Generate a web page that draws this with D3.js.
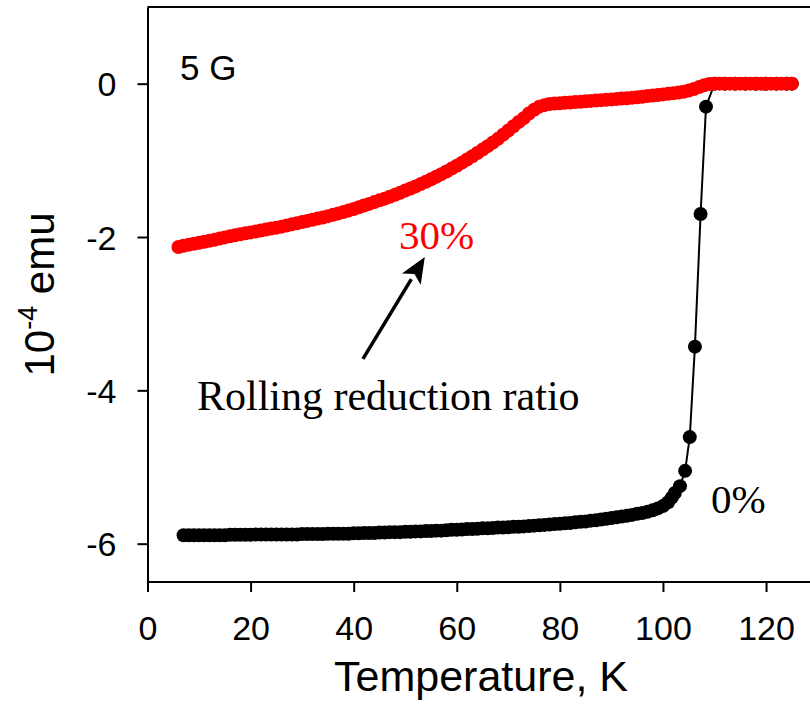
<!DOCTYPE html>
<html>
<head>
<meta charset="utf-8">
<script src="https://cdn.jsdelivr.net/npm/d3@7/dist/d3.min.js"></script>
<style>
  html, body { margin: 0; padding: 0; background: #fff; }
  svg { display: block; }
</style>
</head>
<body>
<svg id="chart" width="810" height="716"></svg>
<script>
// Magnetic moment (10^-4 emu) vs temperature (K) at 5 G, two rolling reduction ratios.

// 0% sample
const tempPlain = [
  7, 8, 9, 10, 11, 12, 13, 14, 15, 16, 17, 18, 19, 20, 21, 22, 23, 24, 25, 26,
  27, 28, 29, 30, 31, 32, 33, 34, 35, 36, 37, 38, 39, 40, 41, 42, 43, 44, 45, 46,
  47, 48, 49, 50, 51, 52, 53, 54, 55, 56, 57, 58, 59, 60, 61, 62, 63, 64, 65, 66,
  67, 68, 69, 70, 71, 72, 73, 74, 75, 76, 77, 78, 79, 80, 81, 82, 83, 84, 85, 86,
  87, 88, 89, 90, 91, 92, 93, 94, 95, 96, 97, 98, 99, 100, 101, 101.7, 102.3, 103.3,
  104.3, 105.2, 106.2, 107.3, 108.35, 110, 112, 114, 116, 118, 120, 122, 124, 125
];
const momentPlain = [
  -5.89, -5.89, -5.89, -5.89, -5.89, -5.89, -5.89, -5.89, -5.89, -5.885, -5.885, -5.885, -5.885, -5.885, -5.88, -5.88, -5.88, -5.88, -5.88, -5.88,
  -5.88, -5.88, -5.88, -5.875, -5.875, -5.875, -5.875, -5.875, -5.87, -5.87, -5.87, -5.87, -5.87, -5.865, -5.865, -5.86, -5.86, -5.86, -5.855, -5.855,
  -5.85, -5.85, -5.85, -5.845, -5.845, -5.84, -5.84, -5.835, -5.835, -5.83, -5.83, -5.825, -5.82, -5.82, -5.815, -5.81, -5.81, -5.805, -5.80, -5.80,
  -5.795, -5.79, -5.79, -5.785, -5.78, -5.78, -5.775, -5.77, -5.765, -5.76, -5.755, -5.75, -5.745, -5.74, -5.735, -5.73, -5.72, -5.715, -5.71, -5.70,
  -5.695, -5.685, -5.675, -5.665, -5.655, -5.645, -5.635, -5.625, -5.61, -5.60, -5.585, -5.565, -5.54, -5.51, -5.46, -5.40, -5.34, -5.25,
  -5.05, -4.61, -3.43, -1.70, -0.30, 0, 0, 0, 0, 0, 0, 0, 0, 0
];

// 30% sample
const tempRolled = [
  6, 7, 8, 9, 10, 11, 12, 13, 14, 15, 16, 17, 18, 19, 20, 21, 22, 23, 24, 25,
  26, 27, 28, 29, 30, 31, 32, 33, 34, 35, 36, 37, 38, 39, 40, 41, 42, 43, 44, 45,
  46, 47, 48, 49, 50, 51, 52, 53, 54, 55, 56, 57, 58, 59, 60, 61, 62, 63, 64, 65,
  66, 67, 68, 69, 70, 71, 72, 73, 74, 75, 76, 77, 78, 79, 80, 81, 82, 83, 84, 85,
  86, 87, 88, 89, 90, 91, 92, 93, 94, 95, 96, 97, 98, 99, 100, 101, 102, 103, 104, 105,
  106, 107, 108, 109, 110, 111, 112, 113, 114, 115, 116, 117, 118, 119, 120, 121, 122, 123, 124, 125
];
const momentRolled = [
  -2.13, -2.115, -2.10, -2.088, -2.075, -2.062, -2.05, -2.035, -2.02, -2.005, -1.99, -1.978, -1.965, -1.952, -1.94, -1.928, -1.915, -1.902, -1.89, -1.878,
  -1.865, -1.85, -1.835, -1.82, -1.805, -1.79, -1.775, -1.76, -1.745, -1.728, -1.71, -1.692, -1.675, -1.655, -1.635, -1.612, -1.59, -1.568, -1.545, -1.522,
  -1.50, -1.475, -1.45, -1.422, -1.395, -1.368, -1.34, -1.31, -1.28, -1.248, -1.215, -1.18, -1.145, -1.108, -1.07, -1.03, -0.99, -0.948, -0.905, -0.86,
  -0.815, -0.768, -0.72, -0.665, -0.61, -0.555, -0.50, -0.45, -0.39, -0.34, -0.30, -0.28, -0.265, -0.26, -0.255, -0.25, -0.245, -0.24, -0.235, -0.23,
  -0.225, -0.22, -0.215, -0.21, -0.205, -0.20, -0.195, -0.19, -0.185, -0.178, -0.17, -0.162, -0.155, -0.148, -0.14, -0.132, -0.125, -0.115, -0.105, -0.09,
  -0.07, -0.045, -0.02, -0.005, 0, 0, 0, 0, 0, 0, 0, 0, 0, 0, 0, 0, 0, 0, 0, 0
];

const xTicks = [0, 20, 40, 60, 80, 100, 120];
const yTicks = [-6, -4, -2, 0];

const svg = d3.select("#chart");

const x = d3.scaleLinear().domain([0, 130]).range([147.5, 817.6]);
const y = d3.scaleLinear().domain([-6.5, 1]).range([582, 7]);

const sans = "'Liberation Sans', Arial, sans-serif";
const serif = "'Liberation Serif', 'Times New Roman', serif";

// frame: left, bottom and top edges
svg.append("line").attr("x1", x(0)).attr("x2", 812).attr("y1", y(1)).attr("y2", y(1))
  .attr("stroke", "#000").attr("stroke-width", 2);

const plainText = d => String(d);   // ASCII hyphen for negatives
const xAxis = svg.append("g").attr("transform", `translate(0,${y(-6.5)})`)
  .call(d3.axisBottom(x).tickValues(xTicks).tickFormat(plainText)
    .tickSize(10).tickPadding(24).tickSizeOuter(0));
const yAxis = svg.append("g").attr("transform", `translate(${x(0)},0)`)
  .call(d3.axisLeft(y).tickValues(yTicks).tickFormat(plainText)
    .tickSize(10).tickPadding(21).tickSizeOuter(0));

[xAxis, yAxis].forEach(g => {
  g.select(".domain").attr("stroke", "#000").attr("stroke-width", 2);
  g.selectAll(".tick line").attr("stroke", "#000").attr("stroke-width", 2);
  g.selectAll(".tick text").attr("font-family", sans).attr("font-size", 34).attr("fill", "#000");
});
xAxis.select(".domain").attr("d", `M${x(0)},0H812`);
yAxis.selectAll(".tick text").attr("dy", "0.36em");

// axis titles
svg.append("text")
  .attr("x", 481).attr("y", 691)
  .attr("text-anchor", "middle")
  .attr("font-family", sans).attr("font-size", 43)
  .text("Temperature, K");

const yTitle = svg.append("text")
  .attr("transform", `translate(54,${(y(1) + y(-6.5)) / 2}) rotate(-90)`)
  .attr("text-anchor", "middle")
  .attr("font-family", sans).attr("font-size", 42);
yTitle.append("tspan").text("10");
yTitle.append("tspan").attr("font-size", 27).attr("dy", -17).text("-4");
yTitle.append("tspan").attr("dy", 17).text(" emu");

// series
const plain = tempPlain.map((t, i) => ({ t, m: momentPlain[i] }));
const rolled = tempRolled.map((t, i) => ({ t, m: momentRolled[i] }));
const line = d3.line().x(d => x(d.t)).y(d => y(d.m));

svg.append("path").datum(plain).attr("d", line)
  .attr("fill", "none").attr("stroke", "#000").attr("stroke-width", 2);
svg.append("g").selectAll("circle").data(plain).join("circle")
  .attr("cx", d => x(d.t)).attr("cy", d => y(d.m)).attr("r", 7).attr("fill", "#000");

svg.append("path").datum(rolled).attr("d", line)
  .attr("fill", "none").attr("stroke", "#ff0000").attr("stroke-width", 2);
svg.append("g").selectAll("circle").data(rolled).join("circle")
  .attr("cx", d => x(d.t)).attr("cy", d => y(d.m)).attr("r", 7).attr("fill", "#ff0000");

// annotations
svg.append("text").attr("x", x(6.3)).attr("y", y(0.05))
  .attr("font-family", sans).attr("font-size", 35).text("5 G");

svg.append("text").attr("x", x(48.8)).attr("y", y(-2.15))
  .attr("font-family", serif).attr("font-size", 41).attr("fill", "#ff0000").text("30%");

svg.append("text").attr("x", x(9.6)).attr("y", y(-4.25))
  .attr("font-family", serif).attr("font-size", 42).attr("fill", "#000").text("Rolling reduction ratio");

svg.append("text").attr("x", x(109.3)).attr("y", y(-5.6))
  .attr("font-family", serif).attr("font-size", 41).attr("fill", "#000").text("0%");

// arrow from the caption towards the 30% label
const tail = [x(41.8), y(-3.59)], tip = [x(53.8), y(-2.26)];
const ang = Math.atan2(tip[1] - tail[1], tip[0] - tail[0]);
const headLen = 26, headHalf = 11;
const base = [tip[0] - headLen * Math.cos(ang), tip[1] - headLen * Math.sin(ang)];
svg.append("line")
  .attr("x1", tail[0]).attr("y1", tail[1]).attr("x2", base[0]).attr("y2", base[1])
  .attr("stroke", "#000").attr("stroke-width", 3.5);
svg.append("path")
  .attr("d", `M${tip[0]},${tip[1]}
    L${base[0] + headHalf * Math.sin(ang)},${base[1] - headHalf * Math.cos(ang)}
    L${tip[0] - (headLen - 6) * Math.cos(ang)},${tip[1] - (headLen - 6) * Math.sin(ang)}
    L${base[0] - headHalf * Math.sin(ang)},${base[1] + headHalf * Math.cos(ang)}Z`)
  .attr("fill", "#000");
</script>
</body>
</html>
